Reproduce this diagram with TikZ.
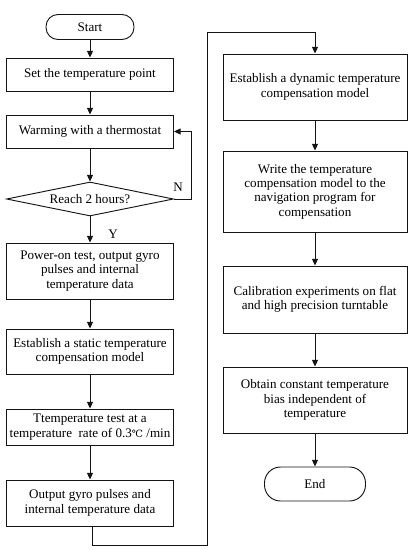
\documentclass[tikz,border=0pt]{standalone}
\usepackage{fontspec}
\setmainfont{Liberation Serif}
\newfontfamily\degfont{DejaVu Serif}
\usepackage{tikz}
\usetikzlibrary{arrows.meta,shapes.geometric}
\definecolor{flowLine}{RGB}{20,20,20}
\newcommand{\degC}{{\degfont\fontsize{7.5}{9}\selectfont ℃}}

\tikzset{
    flowbox/.style={draw=flowLine, line width=0.7pt, rectangle, align=center,
        inner sep=1pt, font=\fontsize{9.8}{10.8}\selectfont},
    leftbox/.style={flowbox, minimum width=167*0.75pt},
    rightbox/.style={flowbox, minimum width=184*0.75pt},
    terminal/.style={flowbox, rounded corners=9pt},
    decision/.style={draw=flowLine, line width=0.7pt, diamond, aspect=4.9,
        inner sep=0pt, minimum width=167*0.75pt, minimum height=34*0.75pt,
        font=\fontsize{9.8}{10.8}\selectfont},
    flowarrow/.style={draw=flowLine, line width=0.7pt, -{Triangle[length=5pt,width=4.5pt]}},
    flowlabel/.style={font=\fontsize{9.8}{10.8}\selectfont}
}

\begin{document}
\begin{tikzpicture}[x=0.75pt, y=-0.75pt]
\useasboundingbox (0,0) rectangle (413,550);

% left column
\node[terminal, minimum width=88*0.75pt, minimum height=25*0.75pt] (start) at (90,27) {Start};
\node[leftbox, minimum height=33*0.75pt] (setpt) at (90,74.5) {Set the temperature point};
\node[leftbox, minimum height=33*0.75pt] (warm) at (90,131.5) {Warming with a thermostat};
\node[decision] (reach) at (90,199) {Reach 2 hours?};
\node[leftbox, minimum height=56*0.75pt] (power) at (90,271) {Power-on test, output gyro\\pulses and internal\\temperature data};
\node[leftbox, minimum height=45*0.75pt] (static) at (90,351.5) {Establish a static temperature\\compensation model};
\node[leftbox, minimum height=36*0.75pt] (ttest) at (90,427) {Ttemperature test at a\\temperature\ \ rate of 0.3\degC\ /min};
\node[leftbox, minimum height=46*0.75pt] (output) at (90,503) {Output gyro pulses and\\internal temperature data};

% right column
\node[rightbox, minimum height=66*0.75pt] (dynamic) at (315,87) {Establish a dynamic temperature\\compensation model};
\node[rightbox, minimum height=81*0.75pt] (write) at (315,191.5) {Write the temperature\\compensation model to the\\navigation program for\\compensation};
\node[rightbox, minimum height=67*0.75pt] (calib) at (315,299.5) {Calibration experiments on flat\\and high precision turntable};
\node[rightbox, minimum height=66*0.75pt] (obtain) at (315,400) {Obtain constant temperature\\bias independent of\\temperature};
\node[terminal, minimum width=101*0.75pt, minimum height=34*0.75pt, rounded corners=12pt] (finish) at (315,484) {End};

% connectors
\draw[flowarrow] (start) -- (setpt);
\draw[flowarrow] (setpt) -- (warm);
\draw[flowarrow] (warm) -- (reach);
\draw[flowarrow] (reach) -- (power);
\draw[flowarrow] (power) -- (static);
\draw[flowarrow] (static) -- (ttest);
\draw[flowarrow] (ttest) -- (output);
\draw[flowarrow] (reach.east) -- ++(17,0) |- (warm.east);
\node[flowlabel] (nlabel) at (178,187) {N};
\node[flowlabel] (ylabel) at (113,234) {Y};

\coordinate (jumpA) at (92,545);
\coordinate (jumpB) at (207,545);
\coordinate (jumpC) at (207,32);
\coordinate (jumpD) at (315,32);
\draw[flowarrow] (output.south -| jumpA) -- (jumpA) -- (jumpB) -- (jumpC) -- (jumpD) -- (dynamic.north);

\draw[flowarrow] (dynamic) -- (write);
\draw[flowarrow] (write) -- (calib);
\draw[flowarrow] (calib) -- (obtain);
\draw[flowarrow] (obtain) -- (finish);
\end{tikzpicture}
\end{document}
